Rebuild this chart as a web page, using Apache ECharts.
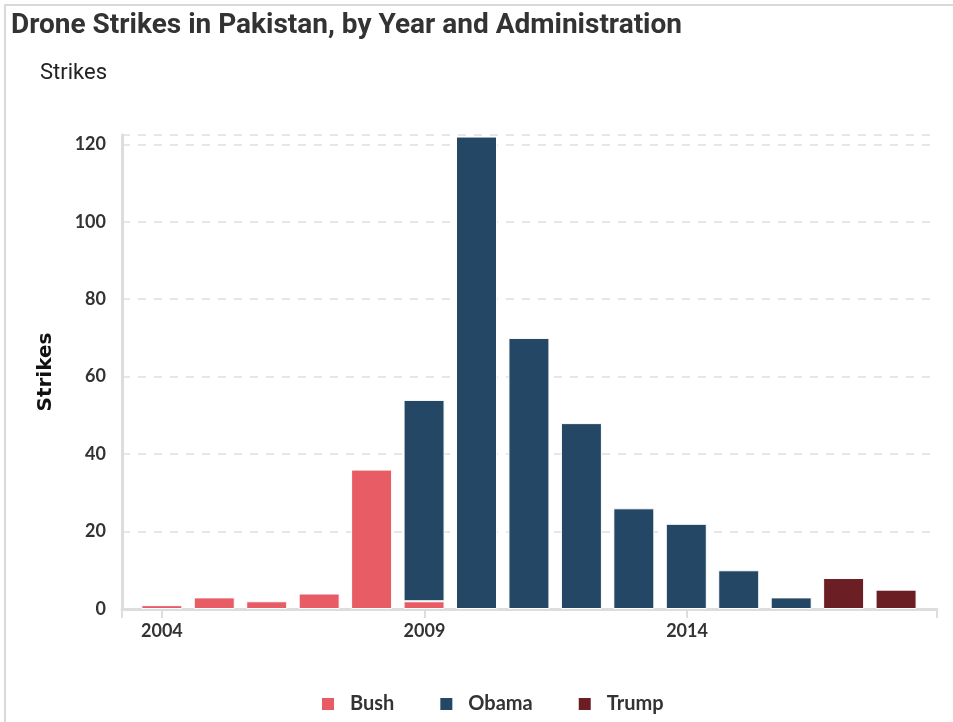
<!DOCTYPE html>
<html>
<head>
<meta charset="utf-8">
<script src="https://cdn.jsdelivr.net/npm/echarts@6/dist/echarts.min.js"></script>
<style>
  html, body { margin: 0; padding: 0; background: #fff; }
  #chart { width: 953px; height: 722px; }
</style>
</head>
<body>
<div id="chart"></div>
<script>
// strikes per year, split by administration
var years = ['2004', '2005', '2006', '2007', '2008', '2009', '2010', '2011', '2012', '2013', '2014', '2015', '2016', '2017', '2018'];
var bush  = [1, 3, 2, 4, 36, 2, '-', '-', '-', '-', '-', '-', '-', '-', '-'];
var obama = ['-', '-', '-', '-', '-', 52, 122, 70, 48, 26, 22, 10, 3, '-', '-'];
var trump = ['-', '-', '-', '-', '-', '-', '-', '-', '-', '-', '-', '-', '-', 8, 5];
var yearLabels = [2004, 2009, 2014];
var yTicks = [0, 20, 40, 60, 80, 100, 120];

var yMax = 122.4;
var chart = echarts.init(document.getElementById('chart'));

function barStyle(color) {
    return {
        color: color,
        borderColor: '#ffffff',
        borderWidth: 1
    };
}

chart.setOption({
    animation: false,
    graphic: [
        {
            type: 'rect',
            shape: {x: 5, y: 5, width: 1000, height: 800},
            style: {fill: 'none', stroke: '#d9d9d9', lineWidth: 2},
            silent: true
        },
        {
            type: 'text',
            left: 11,
            top: 12,
            style: {
                text: 'Drone Strikes in Pakistan, by Year and Administration',
                font: 'bold 28px Roboto',
                fill: '#333333'
            }
        },
        {
            type: 'text',
            left: 40,
            top: 62,
            style: {
                text: 'Strikes',
                font: '22px Roboto',
                fill: '#222222'
            }
        }
    ],
    legend: {
        top: 689,
        left: 315,
        icon: 'rect',
        itemWidth: 14,
        itemHeight: 14,
        itemGap: 44,
        textStyle: {
            fontFamily: 'Lato',
            fontWeight: 'bold',
            fontSize: 20,
            color: '#333333',
            padding: [0, 0, 0, 10]
        },
        data: ['Bush', 'Obama', 'Trump']
    },
    grid: [
        // axes, ticks and gridlines
        {left: 122, right: 16, top: 135, bottom: 113},
        // bars: one slot per year
        {left: 135.6, right: 30.7, top: 135, bottom: 113}
    ],
    xAxis: [
        {
            type: 'value',
            gridIndex: 0,
            min: 2003.24,
            max: 2018.76,
            splitLine: {show: false},
            axisLine: {lineStyle: {color: '#dddddd', width: 3}},
            axisTick: {
                show: true,
                customValues: [2003.24, 2004, 2009, 2014, 2018.76],
                length: 9,
                lineStyle: {color: '#dddddd', width: 2}
            },
            axisLabel: {
                customValues: yearLabels,
                formatter: function (v) { return String(v); },
                fontFamily: 'Lato',
                fontWeight: 'bold',
                fontSize: 18,
                color: '#333333',
                margin: 13
            }
        },
        {
            type: 'category',
            gridIndex: 1,
            data: years,
            show: false
        }
    ],
    yAxis: [
        {
            type: 'value',
            gridIndex: 0,
            min: 0,
            max: yMax,
            interval: 20,
            name: 'Strikes',
            nameLocation: 'middle',
            nameGap: 66,
            nameTextStyle: {
                fontFamily: 'DejaVu Sans',
                fontWeight: 'bold',
                fontSize: 20,
                color: '#111111'
            },
            axisLine: {show: true, lineStyle: {color: '#dddddd', width: 3}},
            axisTick: {show: false},
            splitLine: {
                show: true,
                lineStyle: {color: '#e0e0e0', type: [8, 8], width: 1.5}
            },
            axisLabel: {
                showMaxLabel: false,
                formatter: function (v) { return yTicks.indexOf(v) >= 0 ? String(v) : ''; },
                fontFamily: 'Lato',
                fontWeight: 'bold',
                fontSize: 18,
                color: '#333333',
                margin: 16
            }
        },
        {
            type: 'value',
            gridIndex: 1,
            min: 0,
            max: yMax,
            show: false,
            splitLine: {show: false}
        }
    ],
    series: [
        {
            name: 'Bush',
            type: 'bar',
            xAxisIndex: 1,
            yAxisIndex: 1,
            stack: 'total',
            barWidth: 41,
            itemStyle: barStyle('#e85c66'),
            data: bush
        },
        {
            name: 'Obama',
            type: 'bar',
            xAxisIndex: 1,
            yAxisIndex: 1,
            stack: 'total',
            barWidth: 41,
            itemStyle: barStyle('#234764'),
            data: obama
        },
        {
            name: 'Trump',
            type: 'bar',
            xAxisIndex: 1,
            yAxisIndex: 1,
            stack: 'total',
            barWidth: 41,
            itemStyle: barStyle('#6b1f24'),
            data: trump
        }
    ]
});
</script>
</body>
</html>
